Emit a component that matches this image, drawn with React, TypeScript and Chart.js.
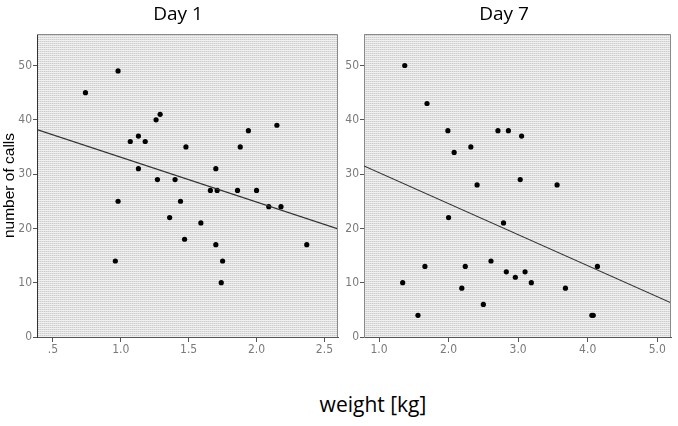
import React, { useEffect, useRef } from "react";
import { Chart, registerables } from "chart.js";

Chart.register(...registerables);

// Day 1 data: weight [kg] vs number of calls
const day1Weights = [0.74, 0.98, 1.26, 1.29, 1.07, 1.13, 1.18, 1.48, 2.15, 1.94, 1.88, 1.13, 1.70,
  1.27, 1.40, 1.66, 1.71, 1.86, 2.0, 2.09, 2.18, 0.98, 1.44, 1.36, 1.59, 1.47, 1.70, 2.37, 0.96, 1.75, 1.74];
const day1Calls = [45, 49, 40, 41, 36, 37, 36, 35, 39, 38, 35, 31, 31,
  29, 29, 27, 27, 27, 27, 24, 24, 25, 25, 22, 21, 18, 17, 17, 14, 14, 10];
const day1FitX = [0.383, 2.6];
const day1FitY = [38.2, 19.9];

// Day 7 data
const day7Weights = [1.37, 1.69, 1.99, 2.08, 2.32, 2.71, 2.86, 3.05, 3.03, 2.41, 3.56, 2.0, 2.79,
  2.61, 1.66, 2.24, 4.14, 2.83, 3.10, 2.96, 1.34, 3.19, 2.19, 3.68, 2.50, 1.56, 4.06, 4.08];
const day7Calls = [50, 43, 38, 34, 35, 38, 38, 37, 29, 28, 28, 22, 21,
  14, 13, 13, 13, 12, 12, 11, 10, 10, 9, 9, 6, 4, 4, 4];
const day7FitX = [0.784, 5.198];
const day7FitY = [31.5, 6.3];

const yTicks = [0, 10, 20, 30, 40, 50];
const day1XTicks = [0.5, 1.0, 1.5, 2.0, 2.5];
const day7XTicks = [1.0, 2.0, 3.0, 4.0, 5.0];

const TICK_FONT = "'Liberation Sans Narrow', 'DejaVu Sans Condensed', 'Liberation Sans', Arial";

function makePattern(ctx: CanvasRenderingContext2D) {
  const c = document.createElement("canvas");
  c.width = 4;
  c.height = 2;
  const p = c.getContext("2d")!;
  p.fillStyle = "#f0f0f0";
  p.fillRect(0, 0, 4, 2);
  p.fillStyle = "#cccccc";
  p.fillRect(0, 1, 1, 1);
  p.fillRect(2, 1, 1, 1);
  p.fillStyle = "#dedede";
  p.fillRect(1, 1, 1, 1);
  p.fillRect(3, 1, 1, 1);
  return ctx.createPattern(c, "repeat");
}

const panelPlugin = {
  id: "panelBg",
  beforeDraw(chart: any) {
    const { ctx, chartArea } = chart;
    const { left, top, right, bottom } = chartArea;
    ctx.save();
    ctx.fillStyle = makePattern(ctx) || "#e4e4e4";
    ctx.fillRect(left, top, right - left, bottom - top);
    ctx.restore();
  },
  afterDatasetsDraw(chart: any) {
    const { ctx, chartArea } = chart;
    const { left, top, right, bottom } = chartArea;
    ctx.save();
    ctx.strokeStyle = "#8a8a8a";
    ctx.lineWidth = 1;
    ctx.beginPath();
    ctx.moveTo(left, top + 0.5);
    ctx.lineTo(right - 0.5, top + 0.5);
    ctx.lineTo(right - 0.5, bottom);
    ctx.stroke();
    ctx.restore();
  },
};

function buildConfig(
  xs: number[], ys: number[], fitX: number[], fitY: number[],
  xTicks: number[], xMin: number, xMax: number, showYTitle: boolean,
  yWidth: number, padRight: number, dotted: boolean, fmt: (v: number) => string
): any {
  return {
    type: "scatter",
    data: {
      datasets: [
        {
          type: "line",
          data: fitX.map((x, i) => ({ x, y: fitY[i] })),
          borderColor: "#333333",
          borderWidth: 1.2,
          pointRadius: 0,
          fill: false,
        },
        {
          data: xs.map((x, i) => ({ x, y: ys[i] })),
          backgroundColor: "#000000",
          borderColor: "#000000",
          pointRadius: 2.6,
          borderWidth: 0,
        },
      ],
    },
    options: {
      responsive: false,
      animation: false,
      layout: { padding: { top: 34, right: padRight, left: 0, bottom: 0 } },
      plugins: { legend: { display: false }, tooltip: { enabled: false }, title: { display: false } },
      scales: {
        x: {
          type: "linear",
          min: xMin,
          max: xMax,
          afterBuildTicks: (s: any) => {
            s.ticks = xTicks.map((v) => ({ value: v }));
          },
          afterFit: (s: any) => {
            s.height = 23;
          },
          ticks: {
            includeBounds: false,
            color: "#7a7a7a",
            font: { family: TICK_FONT, size: 12 },
            padding: 1,
            maxRotation: 0,
            autoSkip: false,
            callback: (v: number) => fmt(v),
          },
          grid: { drawOnChartArea: false, drawTicks: true, tickLength: 5, color: "#555555" },
          border: { display: true, color: "#555555", width: 1 },
        },
        y: {
          type: "linear",
          min: 0,
          max: 55.8,
          afterBuildTicks: (s: any) => {
            s.ticks = yTicks.map((v) => ({ value: v }));
          },
          afterFit: (s: any) => {
            s.width = yWidth;
          },
          ticks: {
            includeBounds: false,
            color: "#7a7a7a",
            font: { family: TICK_FONT, size: 12 },
            padding: 1,
            autoSkip: false,
            callback: (v: number) => String(v),
          },
          title: {
            display: showYTitle,
            text: "number of calls",
            color: "#000000",
            font: { family: "'Liberation Sans', Arial", size: 15.5 },
            padding: { top: 0, bottom: 0 },
          },
          grid: { drawOnChartArea: false, drawTicks: true, tickLength: 4, color: "#555555" },
          border: { display: true, color: dotted ? "#333333" : "#8a8a8a", width: 1, dash: dotted ? [1, 2] : [] },
        },
      },
    },
    plugins: [panelPlugin],
  };
}

function ChartCanvas({ config, left, width }: { config: any; left: number; width: number }) {
  const ref = useRef<HTMLCanvasElement | null>(null);
  useEffect(() => {
    if (!ref.current) return;
    const chart = new Chart(ref.current, config);
    return () => chart.destroy();
  }, []);
  return (
    <canvas
      ref={ref}
      width={width}
      height={360}
      style={{ position: "absolute", left, top: 0, width, height: 360 }}
    />
  );
}

const fmtDay1 = (v: number) => v.toFixed(1).replace(/^0/, "");
const fmtDay7 = (v: number) => v.toFixed(1);

export default function App() {
  const cfg1 = buildConfig(day1Weights, day1Calls, day1FitX, day1FitY, day1XTicks, 0.383, 2.6, true, 37, 0, true, fmtDay1);
  const cfg7 = buildConfig(day7Weights, day7Calls, day7FitX, day7FitY, day7XTicks, 0.784, 5.198, false, 22, 7, false, fmtDay7);
  const titleStyle: React.CSSProperties = {
    position: "absolute",
    top: 4,
    fontFamily: "'Open Sans', sans-serif",
    fontSize: 19,
    lineHeight: "19px",
    color: "#000",
    transform: "translateX(-50%)",
    whiteSpace: "nowrap",
  };
  return (
    <div style={{ position: "fixed", left: 0, top: 0, width: 678, height: 426, background: "#ffffff", overflow: "hidden" }}>
      <ChartCanvas config={cfg1} left={0} width={342} />
      <ChartCanvas config={cfg7} left={342} width={336} />
      <div style={{ ...titleStyle, left: 178 }}>Day 1</div>
      <div style={{ ...titleStyle, left: 504 }}>Day 7</div>
      <div
        style={{
          position: "absolute",
          left: 373,
          top: 394,
          transform: "translateX(-50%)",
          fontFamily: "'Open Sans', sans-serif",
          fontSize: 21,
          lineHeight: "21px",
          color: "#000",
          whiteSpace: "nowrap",
        }}
      >
        weight [kg]
      </div>
    </div>
  );
}
